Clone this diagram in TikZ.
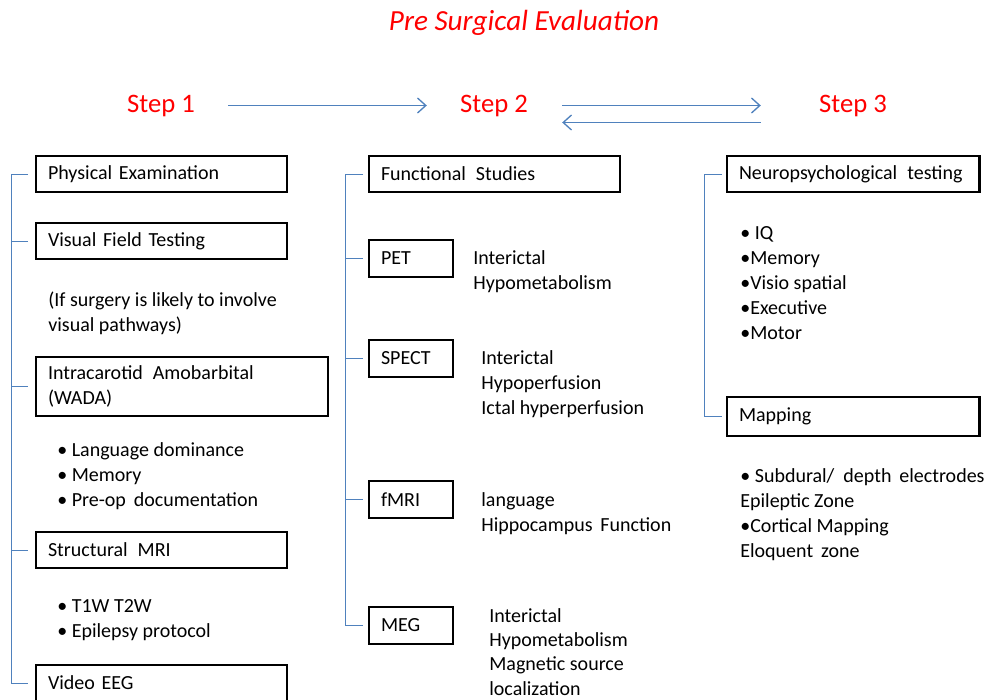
\documentclass[tikz,border=0pt]{standalone}
\usepackage{fontspec}
\setmainfont{Carlito}
\usetikzlibrary{arrows.meta,positioning}
\definecolor{linkblue}{RGB}{79,129,189}
\tikzset{
  every node/.style={font=\fontsize{12}{15}\selectfont},
  box/.style={draw, line width=1.4pt, anchor=north west, outer sep=0pt,
    inner xsep=7.2pt, inner ysep=0pt, align=left,
    text width=136.2pt, minimum height=21.6pt},
  smallbox/.style={box, text width=36pt, minimum height=22.2pt},
  note/.style={anchor=base west, align=left, inner sep=0pt},
  steplabel/.style={font=\fontsize{16}{19}\selectfont, text=red, inner sep=0pt, anchor=base},
  flow/.style={draw=linkblue, line width=0.8pt, -{Straight Barb[length=5pt,width=9pt]}},
  bracket/.style={draw=linkblue, line width=0.6pt}
}
\begin{document}
\begin{tikzpicture}[x=0.6pt,y=-0.6pt]
\useasboundingbox (0,0) rectangle (984,699);
\node[font=\fontsize{17.5}{20}\selectfont\itshape, text=red, anchor=base, inner sep=0pt] (title) at (524,30) {Pre Surgical Evaluation};
\foreach \n/\x in {1/161,2/494,3/853}
  \node[steplabel] (s\n) at (\x,112) {Step \n};
\draw[flow, shorten <=19.8pt, shorten >=19.8pt] (s1.east) -- (s2.west);
\draw[flow, shorten <=20.4pt, shorten >=34.8pt] (s2.east) -- (s3.west);
\draw[flow, shorten <=34.8pt, shorten >=20.4pt] ([yshift=-10.2pt]s3.west) -- ([yshift=-10.2pt]s2.east);

\node[box] (phys) at (36,156) {Physical Examination};
\node[box] (vis) at (36,223) {Visual Field Testing};
\node[box, text width=160.8pt, minimum height=35.4pt] (wada) at (36,357) {Intracarotid\ \,Amobarbital\\(WADA)};
\node[box] (smri) at (36,532) {Structural\ \,MRI};
\node[box] (veeg) at (36,665) {Video EEG};
\node[note] (visnote) at (48,331) {(If surgery is likely to involve\\visual pathways)};
\node[note] (wadalist) at (57,506) {• Language dominance\\• Memory\\• Pre-op\ \,documentation};
\node[note] (smrilist) at (57,637) {• T1W T2W\\• Epilepsy protocol};

\node[box] (func) at (369,156) {Functional\ \,Studies};
\node[smallbox] (pet) at (369,240) {PET};
\node[smallbox] (spect) at (369,340) {SPECT};
\node[smallbox] (fmri) at (369,481) {fMRI};
\node[smallbox] (meg) at (369,607) {MEG};
\node[note] (pettext) at (473,289) {Interictal\\Hypometabolism};
\node[note] (specttext) at (481,414) {Interictal\\Hypoperfusion\\Ictal hyperperfusion};
\node[note] (fmritext) at (481,531) {language\\Hippocampus\ \,Function};
\node[note, font=\fontsize{12}{14.6}\selectfont] (megtext) at (489,695) {Interictal\\Hypometabolism\\Magnetic source\\localization};

\node[box, text width=137pt] (neuro) at (727,156) {Neuropsychological\ \,testing};
\node[box, text width=137pt, minimum height=23.4pt] (mapping) at (727,397) {Mapping};
\node[note] (neurolist) at (740,339) {• IQ\\•Memory\\•Visio spatial\\•Executive\\•Motor};
\node[note] (maplist) at (740,557) {• Subdural/\ \ depth\ \,electrodes\\Epileptic Zone\\•Cortical Mapping\\Eloquent\ \,zone};

\coordinate (lbar) at (11,0);
\coordinate (mbar) at (345,0);
\coordinate (rbar) at (704,0);
\draw[bracket, shorten <=4.8pt, shorten >=4.8pt] (phys.west) -- (lbar |- phys.west) -- (lbar |- veeg.west) -- (veeg.west);
\foreach \b in {vis,wada,smri}
  \draw[bracket, shorten >=4.8pt] (lbar |- \b.west) -- (\b.west);
\draw[bracket, shorten <=3.6pt, shorten >=3.6pt] (func.west) -- (mbar |- func.west) -- (mbar |- meg.west) -- (meg.west);
\foreach \b in {pet,spect,fmri}
  \draw[bracket, shorten >=3.6pt] (mbar |- \b.west) -- (\b.west);
\draw[bracket, shorten <=3pt, shorten >=3pt] (neuro.west) -- (rbar |- neuro.west) -- (rbar |- mapping.west) -- (mapping.west);
\end{tikzpicture}
\end{document}
